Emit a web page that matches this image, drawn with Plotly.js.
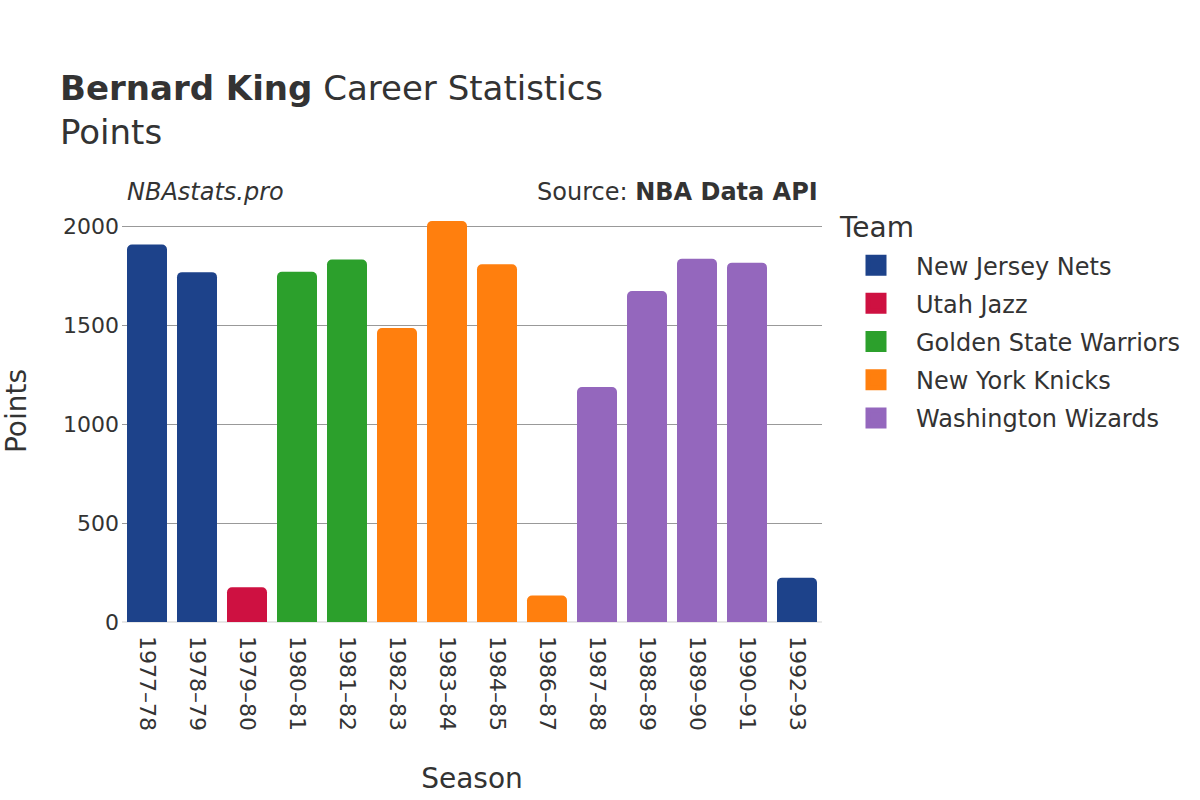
<!DOCTYPE html>
<html>
<head>
<meta charset="utf-8">
<script src="https://cdn.plot.ly/plotly-3.0.1.min.js"></script>
<style>html,body{margin:0;padding:0;background:#fff;}</style>
</head>
<body>
<div id="chart" style="width:1200px;height:800px;"></div>
<script>
const seasons = ["1977–78","1978–79","1979–80","1980–81","1981–82","1982–83","1983–84","1984–85","1986–87","1987–88","1988–89","1989–90","1990–91","1992–93"];
const teams = ["New Jersey Nets","New Jersey Nets","Utah Jazz","Golden State Warriors","Golden State Warriors","New York Knicks","New York Knicks","New York Knicks","New York Knicks","Washington Wizards","Washington Wizards","Washington Wizards","Washington Wizards","New Jersey Nets"];
const points = [1909,1769,176,1771,1833,1486,2027,1809,134,1188,1674,1837,1817,224];
const teamOrder = ["New Jersey Nets","Utah Jazz","Golden State Warriors","New York Knicks","Washington Wizards"];
const teamColors = ["#1d428a","#ce1141","#2ca02c","#ff7f0e","#9467bd"];

const font = "DejaVu Sans, sans-serif";
const traces = [];
teamOrder.forEach((t, k) => {
  const xs = [], ys = [];
  seasons.forEach((s, i) => { if (teams[i] === t) { xs.push(s); ys.push(points[i]); } });
  traces.push({type: "bar", name: t, x: xs, y: ys, marker: {color: teamColors[k]}, legendgroup: t, showlegend: false});
});
// legend swatches
teamOrder.forEach((t, k) => {
  traces.push({type: "scatter", mode: "markers", name: t, x: [null], y: [null], legendgroup: t,
    marker: {symbol: "square", size: 16, color: teamColors[k], line: {color: teamColors[k], width: 6}}, showlegend: true, hoverinfo: "skip"});
});

const layout = {
  width: 1200, height: 800,
  margin: {l: 122, r: 378, t: 200, b: 178},
  paper_bgcolor: "#fff", plot_bgcolor: "#fff",
  font: {family: font, color: "#333", size: 22},
  barmode: "group", bargap: 0.2, barcornerradius: 5,
  title: {text: "<b>Bernard King</b> Career Statistics<br>Points", x: 0.05, xanchor: "left", y: 0.875, yanchor: "top", font: {family: font, size: 34, color: "#333"}},
  xaxis: {
    title: {text: "Season", font: {size: 28, color: "#333"}, standoff: 38},
    type: "category", categoryorder: "array", categoryarray: seasons,
    tickangle: 90, tickfont: {size: 22, color: "#333"}, showgrid: false,
    showline: false, ticks: "", ticklabelstandoff: 13
  },
  yaxis: {
    title: {text: "Points", font: {size: 28, color: "#333"}, standoff: 32},
    tickfont: {size: 22, color: "#333"}, gridcolor: "#999", gridwidth: 1,
    zeroline: true, zerolinecolor: "#e8e8e8", zerolinewidth: 2,
    tickvals: [0,500,1000,1500,2000], ticks: "", ticklabelstandoff: 2
  },
  legend: {x: 1.02, xanchor: "left", y: 0.898, yanchor: "top", font: {size: 24, color: "#333"}, tracegroupgap: 4, itemwidth: 70},
  showlegend: true,
  annotations: [
    {text: "Team", xref: "paper", yref: "paper", x: 1.0214, y: 0.936, xanchor: "left", yanchor: "middle", showarrow: false, font: {size: 28, color: "#333"}},
    {text: "<i>NBAstats.pro</i>", xref: "paper", yref: "paper", x: 0.0, y: 1.0, xanchor: "left", yanchor: "bottom", yshift: -8, xshift: 3, showarrow: false, font: {size: 24, color: "#333"}},
    {text: "Source: <b>NBA Data API</b>", xref: "paper", yref: "paper", x: 1.0, y: 1.0, xanchor: "right", yanchor: "bottom", yshift: -8, xshift: -2, showarrow: false, font: {size: 24, color: "#333"}}
  ]
};

Plotly.newPlot("chart", traces, layout, {displayModeBar: false});
</script>
</body>
</html>
